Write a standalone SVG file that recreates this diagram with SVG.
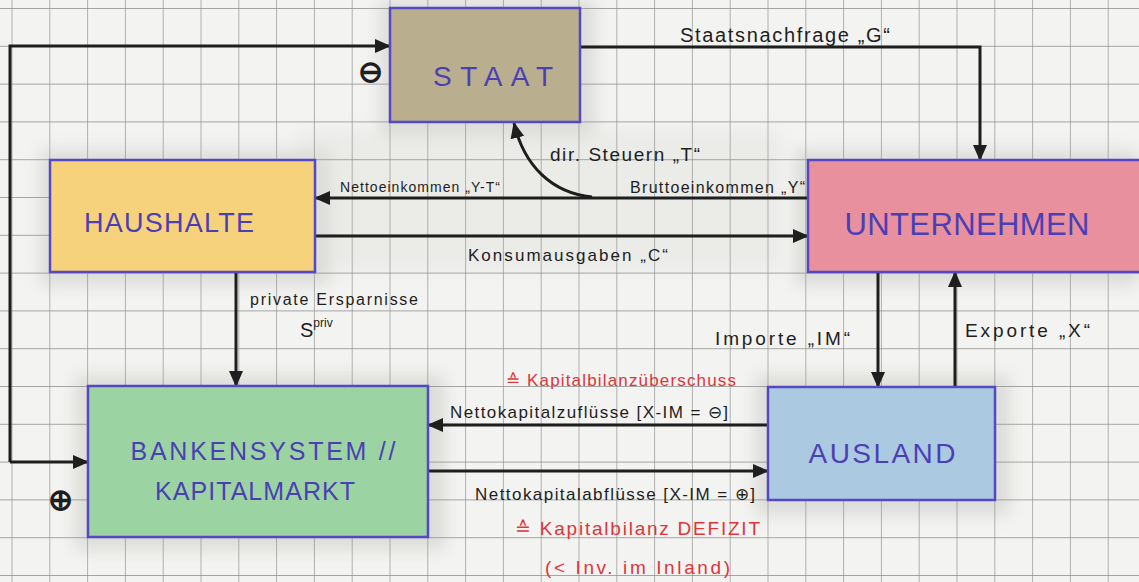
<svg xmlns="http://www.w3.org/2000/svg" width="1139" height="582" viewBox="0 0 1139 582">
<defs>
<pattern id="grid" x="11.5" y="8" width="37.8" height="37.8" patternUnits="userSpaceOnUse">
<path d="M0 0H37.8M0 0V37.8" fill="none" stroke="#8c8c8c" stroke-width="1.3"/>
</pattern>
<filter id="blur" x="-20%" y="-20%" width="140%" height="140%"><feGaussianBlur stdDeviation="8"/></filter>
<marker id="ah" markerWidth="16" markerHeight="14" refX="15" refY="7" orient="auto" markerUnits="userSpaceOnUse">
<path d="M0 0L16 7L0 14z" fill="#1e1e1e"/>
</marker>
<style>
.box{stroke:#5548c2;stroke-width:2.5}
.nl{font-family:"Liberation Sans",Arial,sans-serif;fill:#4b3fb5;text-anchor:middle}
.lb{font-family:"Liberation Sans",Arial,sans-serif;fill:#1e1e1e}
.rd{font-family:"Liberation Sans",Arial,sans-serif;fill:#e0353a}
.cn{fill:none;stroke:#1e1e1e;stroke-width:3}
.ar{marker-end:url(#ah)}
</style>
</defs>
<rect width="1139" height="582" fill="#f3f3f1"/>
<g filter="url(#blur)" fill="#c9c9c6" opacity="0.55">
<rect x="380" y="0" width="215" height="135"/>
<rect x="40" y="150" width="290" height="135"/>
<rect x="795" y="150" width="344" height="135"/>
<rect x="75" y="375" width="370" height="175"/>
<rect x="755" y="375" width="255" height="140"/>
<rect x="300" y="130" width="480" height="140" opacity="0.35"/>
</g>
<rect width="1139" height="582" fill="url(#grid)"/>

<g id="connectors">
<path class="cn ar" d="M10 462V46H390"/>
<path class="cn ar" d="M10 462H88"/>
<path class="cn ar" d="M580 47H980V160"/>
<path class="cn ar" d="M808 198H315"/>
<path class="cn ar" d="M592 197C552 193 524 166 514 123"/>
<path class="cn ar" d="M315 236H808"/>
<path class="cn ar" d="M236 272V386"/>
<path class="cn ar" d="M878 272V387"/>
<path class="cn ar" d="M955 387V272"/>
<path class="cn ar" d="M768 425H428"/>
<path class="cn ar" d="M428 471H768"/>
</g>

<g id="staat">
<rect class="box" x="390" y="8" width="190" height="114" fill="#b9ae8e"/>
<text class="nl" x="493" y="86" font-size="28" textLength="120" lengthAdjust="spacing">STAAT</text>
</g>
<g id="haushalte">
<rect class="box" x="50" y="160" width="265" height="112" fill="#f6d27c"/>
<text class="nl" x="169" y="232" font-size="27" textLength="170" lengthAdjust="spacing">HAUSHALTE</text>
</g>
<g id="unternehmen">
<rect class="box" x="808" y="160" width="340" height="112" fill="#e8909d"/>
<text class="nl" x="967" y="235" font-size="31" textLength="245" lengthAdjust="spacing">UNTERNEHMEN</text>
</g>
<g id="bankensystem">
<rect class="box" x="88" y="386" width="340" height="151" fill="#9bd4a2"/>
<text class="nl" x="263" y="460" font-size="25" textLength="265" lengthAdjust="spacing">BANKENSYSTEM //</text>
<text class="nl" x="255" y="500" font-size="25" textLength="200" lengthAdjust="spacing">KAPITALMARKT</text>
</g>
<g id="ausland">
<rect class="box" x="768" y="387" width="227" height="113" fill="#abcae2"/>
<text class="nl" x="882" y="463" font-size="28" textLength="147" lengthAdjust="spacing">AUSLAND</text>
</g>

<g id="labels">
<text class="lb" x="370" y="82" font-size="30" text-anchor="middle" font-family="DejaVu Sans" font-weight="bold">⊖</text>
<text class="lb" x="60" y="510" font-size="30" text-anchor="middle" font-family="DejaVu Sans" font-weight="bold">⊕</text>
<text class="lb" x="680" y="42" font-size="20" textLength="210" lengthAdjust="spacing">Staatsnachfrage „G“</text>
<text class="lb" x="550" y="161" font-size="19" textLength="150" lengthAdjust="spacing">dir. Steuern „T“</text>
<text class="lb" x="340" y="192" font-size="14" textLength="160" lengthAdjust="spacing">Nettoeinkommen „Y-T“</text>
<text class="lb" x="630" y="193" font-size="16" textLength="175" lengthAdjust="spacing">Bruttoeinkommen „Y“</text>
<text class="lb" x="468" y="261" font-size="17" textLength="200" lengthAdjust="spacing">Konsumausgaben „C“</text>
<text class="lb" x="250" y="305" font-size="16" textLength="168" lengthAdjust="spacing">private Ersparnisse</text>
<text class="lb" x="300" y="337" font-size="20">S<tspan font-size="12" dy="-10">priv</tspan></text>
<text class="lb" x="715" y="345" font-size="19" textLength="135" lengthAdjust="spacing">Importe „IM“</text>
<text class="lb" x="965" y="337" font-size="19" textLength="125" lengthAdjust="spacing">Exporte „X“</text>
<text class="rd" x="506" y="386" font-size="17" textLength="230" lengthAdjust="spacing">≙ Kapitalbilanzüberschuss</text>
<text class="lb" x="450" y="418" font-size="17" textLength="278" lengthAdjust="spacing">Nettokapitalzuflüsse [X-IM = ⊖]</text>
<text class="lb" x="475" y="500" font-size="17" textLength="280" lengthAdjust="spacing">Nettokapitalabflüsse [X-IM = ⊕]</text>
<text class="rd" x="515" y="535" font-size="19" textLength="245" lengthAdjust="spacing">≙ Kapitalbilanz DEFIZIT</text>
<text class="rd" x="545" y="574" font-size="19" textLength="185" lengthAdjust="spacing">(&lt; Inv. im Inland)</text>
</g>
</svg>
